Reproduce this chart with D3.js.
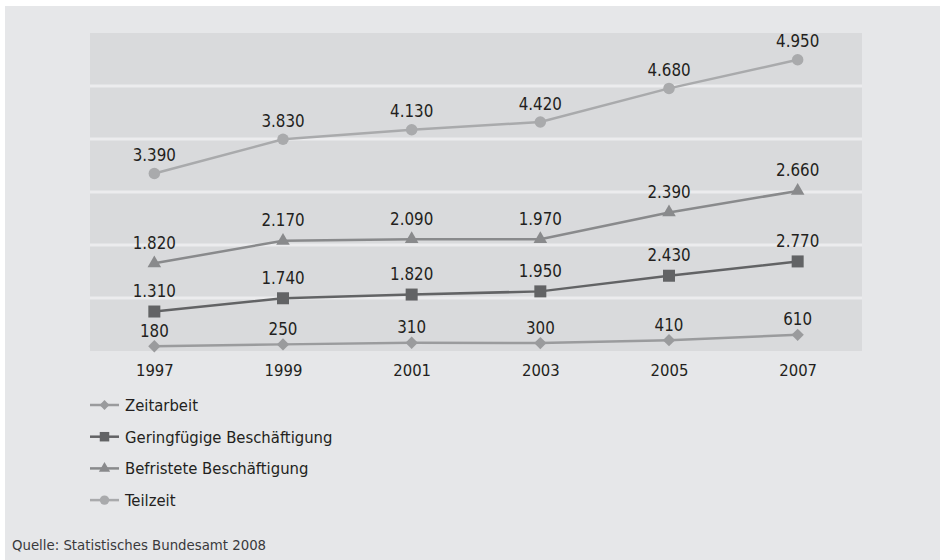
<!DOCTYPE html>
<html>
<head>
<meta charset="utf-8">
<script src="https://cdn.jsdelivr.net/npm/d3@7"></script>
<style>
  html, body { margin: 0; padding: 0; background: #ffffff; }
  svg { display: block; }
</style>
</head>
<body>
<svg id="chart" width="940" height="560"></svg>
<script>
// Atypische Beschäftigung in Tausend, kumuliert dargestellt
const years = ["1997", "1999", "2001", "2003", "2005", "2007"];
const zeitarbeit = [180, 250, 310, 300, 410, 610];
const geringfuegig = [1310, 1740, 1820, 1950, 2430, 2770];
const befristet = [1820, 2170, 2090, 1970, 2390, 2660];
const teilzeit = [3390, 3830, 4130, 4420, 4680, 4950];
const seriesNames = ["Zeitarbeit", "Geringfügige Beschäftigung", "Befristete Beschäftigung", "Teilzeit"];
const yTicks = [0, 2000, 4000, 6000, 8000, 10000, 12000];
const sourceText = "Quelle: Statistisches Bundesamt 2008";

const seriesValues = [zeitarbeit, geringfuegig, befristet, teilzeit];
// Raute = um 45° gedrehtes Quadrat
const seriesStyle = [
  { color: "#9a9b9d", symbol: d3.symbolSquare, rotate: 45, size: 76, legendSize: 48, labelDy: 9.5 },
  { color: "#626365", symbol: d3.symbolSquare, rotate: 0, size: 144, legendSize: 90, labelDy: 14.5 },
  { color: "#898a8c", symbol: d3.symbolTriangle, rotate: 0, size: 80, legendSize: 55, labelDy: 14.5 },
  { color: "#a9aaac", symbol: d3.symbolCircle, rotate: 0, size: 104, legendSize: 70, labelDy: 12.5 }
];

const fmt = d3.formatLocale({ decimal: ",", thousands: ".", grouping: [3], currency: ["", "€"] }).format(",d");

const svg = d3.select("#chart");
const W = 940, H = 560;
const plot = { left: 90, right: 862, top: 33, bottom: 351 };

// Hintergrund
svg.append("rect").attr("x", 5).attr("y", 6).attr("width", W - 5).attr("height", H - 6).attr("fill", "#e6e7e9");

const x = d3.scalePoint().domain(years).range([plot.left, plot.right]).padding(0.5);
const y = d3.scaleLinear().domain([0, 12000]).range([plot.bottom, plot.top]);

// Zeichenfläche mit hellen Trennlinien
svg.append("rect")
  .attr("x", plot.left).attr("y", plot.top)
  .attr("width", plot.right - plot.left).attr("height", plot.bottom - plot.top)
  .attr("fill", "#d9dadc");

svg.append("g").selectAll("line")
  .data(yTicks.slice(1, -1))
  .join("line")
  .attr("x1", plot.left).attr("x2", plot.right)
  .attr("y1", d => y(d)).attr("y2", d => y(d))
  .attr("stroke", "#ececee").attr("stroke-width", 3);

// Kumulierte Werte
const rows = years.map((yr, i) => {
  const r = { year: yr };
  seriesNames.forEach((n, s) => r[n] = seriesValues[s][i]);
  return r;
});
const stacked = d3.stack().keys(seriesNames)(rows);

const line = d3.line().x(d => x(d.data.year)).y(d => y(d[1]));

const textFont = "'DejaVu Sans Condensed', 'DejaVu Sans', sans-serif";

stacked.forEach((layer, s) => {
  const st = seriesStyle[s];
  const g = svg.append("g");
  g.append("path").datum(layer)
    .attr("d", line).attr("fill", "none")
    .attr("stroke", st.color).attr("stroke-width", 2.5);
  g.selectAll("path.m").data(layer).join("path")
    .attr("class", "m")
    .attr("transform", d => `translate(${x(d.data.year)},${y(d[1])}) rotate(${st.rotate})`)
    .attr("d", d3.symbol(st.symbol, st.size)())
    .attr("fill", st.color);
  g.selectAll("text").data(layer).join("text")
    .attr("x", d => x(d.data.year))
    .attr("y", d => y(d[1]) - st.labelDy)
    .attr("text-anchor", "middle")
    .attr("font-family", textFont)
    .attr("font-size", 16.8)
    .attr("fill", "#231f20")
    .text(d => fmt(d.data[seriesNames[s]]));
});

// x-Achse (nur Beschriftung)
const xAxis = svg.append("g").attr("transform", `translate(0,${plot.bottom})`)
  .call(d3.axisBottom(x).tickSize(0).tickPadding(0));
xAxis.select(".domain").remove();
xAxis.selectAll("text")
  .attr("dy", null).attr("y", 25)
  .attr("font-family", textFont).attr("font-size", 16.5)
  .attr("fill", "#231f20");

// Legende
const legend = svg.append("g").attr("transform", "translate(90,405)");
seriesNames.forEach((n, s) => {
  const st = seriesStyle[s];
  const row = legend.append("g").attr("transform", `translate(0,${s * 31.7})`);
  row.append("line").attr("x1", 0).attr("x2", 29).attr("y1", 0).attr("y2", 0)
    .attr("stroke", st.color).attr("stroke-width", 2.5);
  row.append("path").attr("transform", `translate(14.5,0) rotate(${st.rotate})`)
    .attr("d", d3.symbol(st.symbol, st.legendSize)())
    .attr("fill", st.color);
  row.append("text").attr("x", 35).attr("y", 6)
    .attr("font-family", textFont).attr("font-size", 16.5)
    .attr("fill", "#231f20").text(n);
});

// Quelle
svg.append("text").attr("x", 12).attr("y", 550)
  .attr("font-family", textFont).attr("font-size", 14.8)
  .attr("fill", "#3a3a3c").text(sourceText);
</script>
</body>
</html>
